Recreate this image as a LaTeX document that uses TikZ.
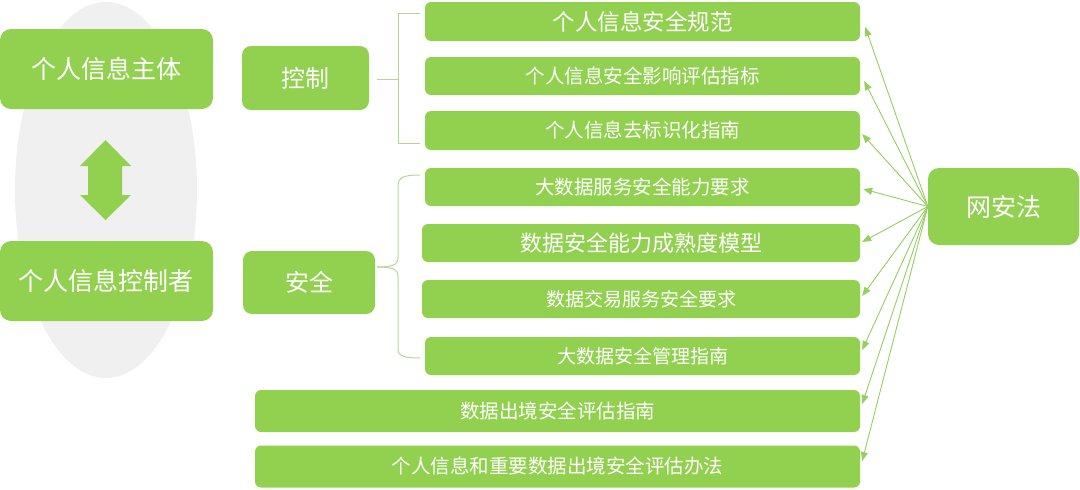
\documentclass[tikz,border=0pt]{standalone}
\usepackage{fontspec}
\setmainfont{Noto Sans CJK SC}
\usetikzlibrary{arrows.meta,calc}
\definecolor{grn}{RGB}{146,208,80}
\definecolor{lgrn}{RGB}{150,206,96}
\definecolor{brk}{RGB}{180,215,150}
\definecolor{ell}{RGB}{240,240,240}
\begin{document}
\begin{tikzpicture}[x=1pt,y=-1pt,
  box/.style={fill=grn, text=white, rounded corners=#1, inner sep=0pt, anchor=center},
  box/.default=6pt,
  fs/.style={font=\fontsize{#1}{#1}\selectfont},
  arr/.style={draw=lgrn, line width=0.9pt, -{Triangle[length=9pt,width=7pt]}},
  brace/.style={draw=brk, line width=1pt}]
\useasboundingbox (0,0) rectangle (1080,490);
% background ellipse
\fill[ell] (106,190) ellipse [x radius=91, y radius=188];
% left boxes
\node[box=11pt, minimum width=213pt, minimum height=80pt, fs=25] (subj) at (106.5,69) {个人信息主体};
\node[box=11pt, minimum width=213pt, minimum height=80pt, fs=25] (ctlr) at (106.5,281) {个人信息控制者};
% double arrow
\fill[grn] (105.5,140) -- (131,166) -- (122,166) -- (122,195) -- (131,195) -- (105.5,220)
  -- (80,195) -- (88,195) -- (88,166) -- (80,166) -- cycle;
% middle boxes
\node[box=9pt, minimum width=127pt, minimum height=64pt, fs=24] (ctrl) at (305.5,78) {控制};
\node[box=9pt, minimum width=132pt, minimum height=63pt, fs=24] (safe) at (309,282.5) {安全};
% right list
\node[box, minimum width=435pt, minimum height=39pt, fs=22.5] (b1) at (642.5,21.5) {个人信息安全规范};
\node[box, minimum width=435pt, minimum height=38pt, fs=19.5] (b2) at (642.5,76) {个人信息安全影响评估指标};
\node[box, minimum width=435pt, minimum height=39pt, fs=19.5] (b3) at (642.5,130.5) {个人信息去标识化指南};
\node[box, minimum width=435pt, minimum height=38pt, fs=19.5] (b4) at (642.5,187) {大数据服务安全能力要求};
\node[box, minimum width=438pt, minimum height=38pt, fs=22] (b5) at (641,243) {数据安全能力成熟度模型};
\node[box, minimum width=438pt, minimum height=38pt, fs=19] (b6) at (641,299) {数据交易服务安全要求};
\node[box, minimum width=435pt, minimum height=38pt, fs=19] (b7) at (642.5,356) {大数据安全管理指南};
\node[box, minimum width=605pt, minimum height=42pt, fs=19.5] (b8) at (557.5,411) {数据出境安全评估指南};
\node[box, minimum width=605pt, minimum height=42pt, fs=19.5] (b9) at (557.5,466.5) {个人信息和重要数据出境安全评估办法};
% law box
\node[box=11pt, minimum width=151pt, minimum height=77pt, fs=25] (law) at (1003.5,206.5) {网安法};
% brackets
\draw[brace] (377,79) -- (398,79);
\draw[brace] (420,13) -- (398,13) -- (398,143) -- (420,143);
\draw[brace] (420,175) .. controls (404,175) and (398,177) .. (398,186) -- (398,258)
  .. controls (398,265) and (392,267) .. (377,267);
\draw[brace] (377,267) .. controls (392,267) and (398,269) .. (398,276) -- (398,349)
  .. controls (398,356) and (404,358) .. (420,358);
% arrows from law
\draw[arr] (law.west) -- ($(b1.east)+(5,5.5)$);
\draw[arr] (law.west) -- ($(b2.east)+(4,5)$);
\draw[arr] (law.west) -- ($(b3.east)+(2,3.5)$);
\draw[arr] (law.west) -- ($(b4.east)+(3,2)$);
\draw[arr] (law.west) -- ($(b5.east)+(2,-1)$);
\draw[arr] (law.west) -- ($(b6.east)+(2,-3)$);
\draw[arr] (law.west) -- ($(b7.east)+(2,-6)$);
\draw[arr] (law.west) -- ($(b8.east)+(2,-7)$);
\draw[arr] (law.west) -- ($(b9.east)+(2,-5.5)$);
\end{tikzpicture}
\end{document}
